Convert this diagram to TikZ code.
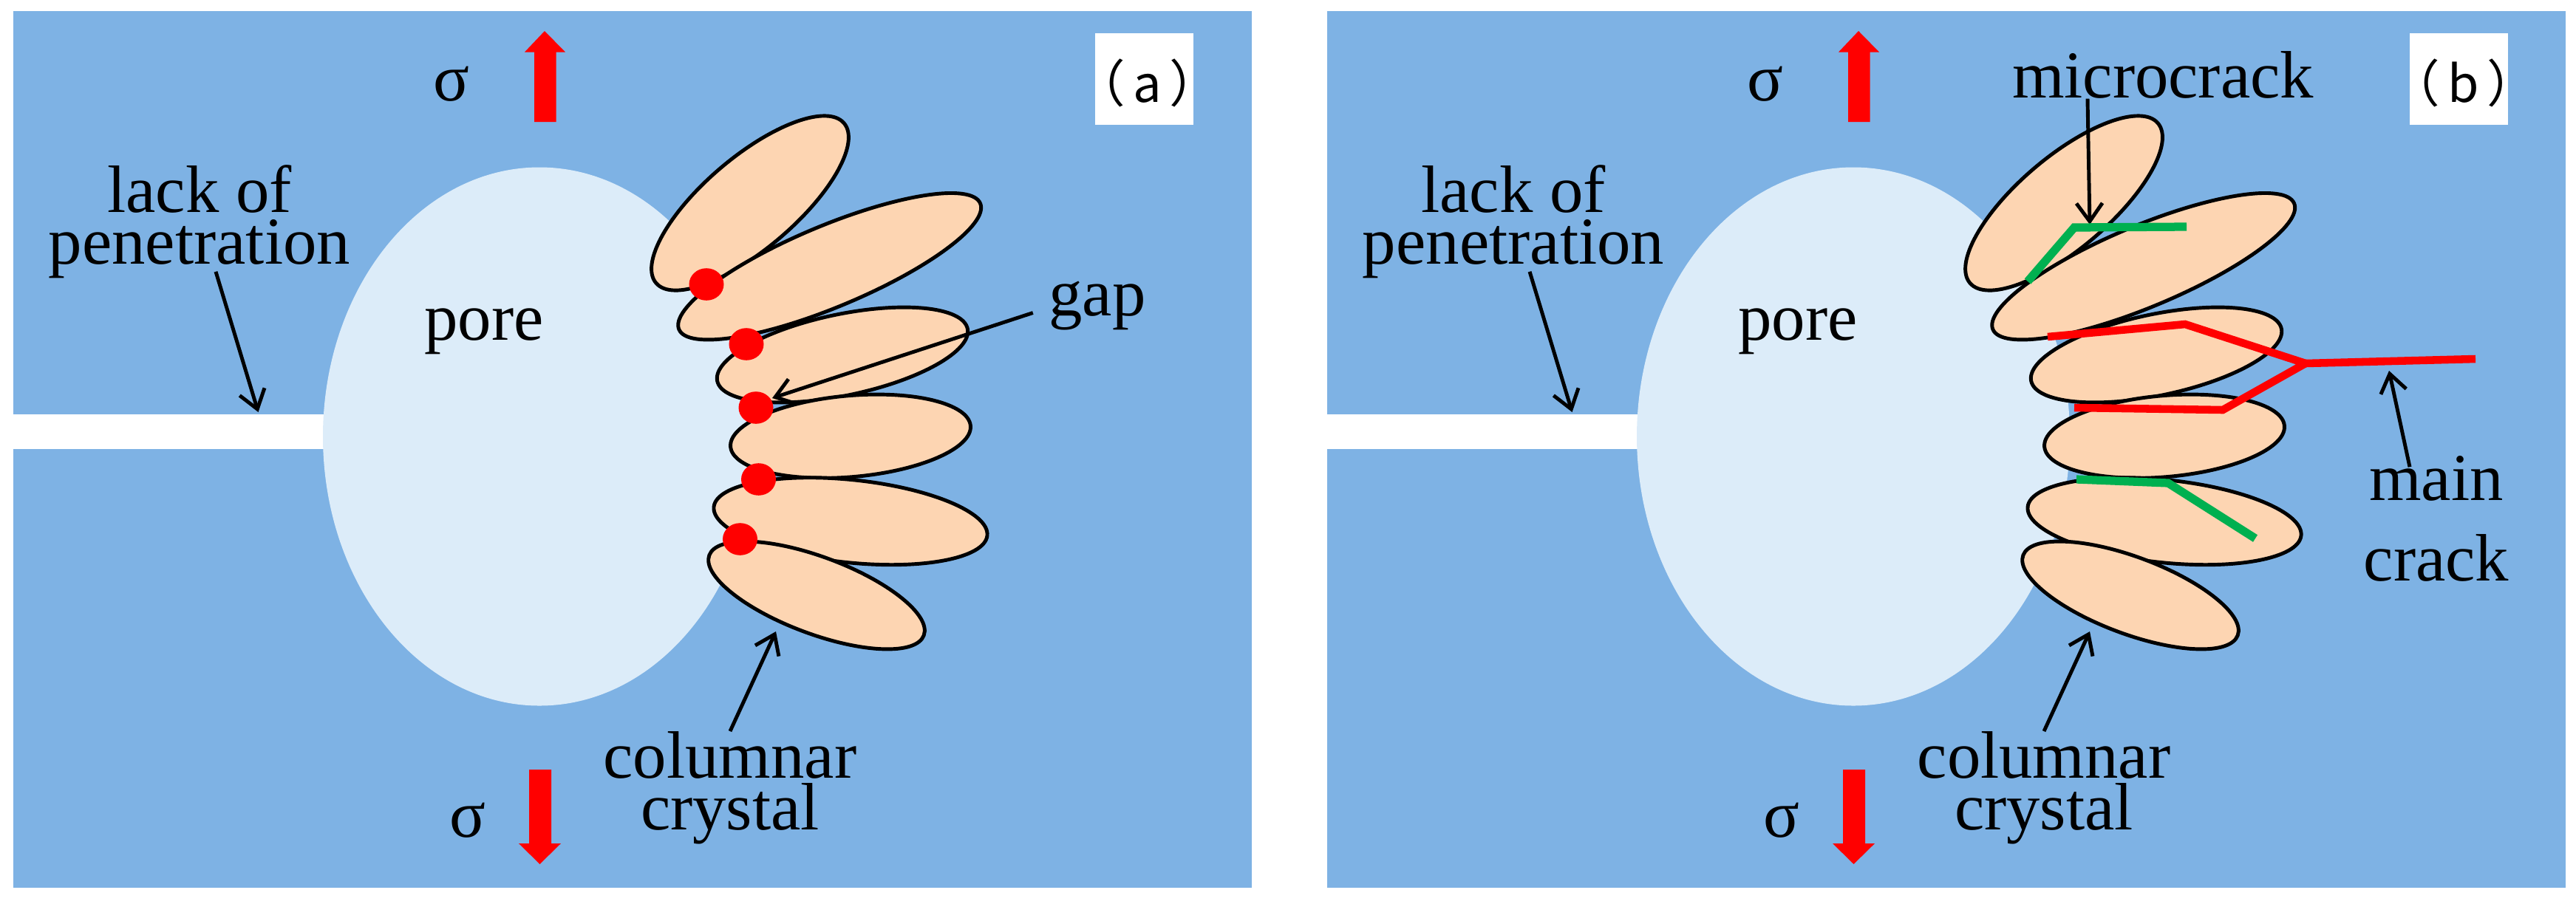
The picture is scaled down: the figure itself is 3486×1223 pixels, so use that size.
\documentclass[tikz,border=0pt]{standalone}
\usepackage{fontspec}
\setmainfont{Liberation Serif}
\newfontfamily\tagfont{Noto Sans CJK SC}
\usetikzlibrary{arrows.meta}
\definecolor{plate}{HTML}{7EB2E4}
\definecolor{poreblue}{HTML}{DCECF9}
\definecolor{crystalfill}{HTML}{FDD5B2}
\definecolor{crackgreen}{HTML}{00B050}
\newcommand{\lblfont}{\fontsize{25.8}{19.9}\selectfont\lineskiplimit=-100pt}
\tikzset{
    lbl/.style={inner sep=0pt,align=center,font=\lblfont},
    tag/.style={inner sep=0pt,anchor=base,font=\tagfont\fontsize{19.5}{22}\selectfont},
    crystal/.style={draw=black,fill=crystalfill,line width=1.4pt},
    pointer/.style={->,>={Straight Barb[length=7pt,width=10pt]},line width=1.4pt},
    maincrack/.style={red,line width=3pt,line join=miter},
    microcrack/.style={crackgreen,line width=3.2pt}
}
% one plate with slit, pore, crystals and the labels both panels share
\newcommand{\weldplate}{
    \fill[plate] (18,15) rectangle (1694,1202);
    \fill[white] (10,561) rectangle (600,608);
    \fill[poreblue] (730,591) ellipse [x radius=293,y radius=364.5];
    \foreach \cx/\cy/\ra/\rb/\ang in {1015/275/167/62/40.4,1140/480.5/173/55/11.8,1122.7/360.7/221/55/22.7,
        1151/590.7/163/55/5,1151/705.7/186/56/-6,1105/806/155/52/-20.5}
        \draw[crystal] (\cx,\cy) circle [x radius=\ra,y radius=\rb,rotate=\ang];
    \fill[red] (737,42) -- (765,70.5) -- (752.5,70.5) -- (752.5,165) -- (723,165) -- (723,70.5) -- (710,70.5) -- cycle;
    \fill[red] (730.5,1170) -- (759,1142) -- (746,1142) -- (746,1042) -- (716,1042) -- (716,1142) -- (702,1142) -- cycle;
    \node[lbl,anchor=base] (sigmaT) at (611,136) {σ};
    \node[lbl,anchor=base] (sigmaB) at (633,1133) {σ};
    \node[lbl] (lack) at (270,300.5) {lack of\\penetration};
    \node[lbl,anchor=base] (pore) at (655,460) {pore};
    \node[lbl] (columnar) at (988,1067) {columnar\\crystal};
    \coordinate (lackTip) at (349.5,558);
    \coordinate (columnarTip) at (1050,855);
    \draw[pointer] ([shift={(22,-10)}]lack.south) -- (lackTip);
    \draw[pointer] (columnar.north) -- (columnarTip);
}

\begin{document}
\begin{tikzpicture}[x=0.01cm,y=-0.01cm]
    \useasboundingbox (0,0) rectangle (3486,1223);
    \fill[white] (0,0) rectangle (3486,1223);

    % panel a
    \begin{scope}[name prefix=a-]
        \weldplate
        \foreach \dx/\dy in {956/385,1010/466,1023/552,1026.5/649,1001.5/730}
            \fill[red] (\dx,\dy) ellipse [x radius=23.5,y radius=21.8];
        \fill[white] (1482,45) rectangle (1615,169);
        \node[tag] (tagA) at (1553,138) {（\hspace{3pt}a\hspace{3pt}）};
        \node[lbl,anchor=base] (gap) at (1485,427) {gap};
        \coordinate (gapTip) at (1045,539);
        \draw[pointer] ([shift={(-21,10)}]gap.west) -- (gapTip);
    \end{scope}

    % panel b
    \begin{scope}[xshift=17.77cm,name prefix=b-]
        \weldplate
    \end{scope}
    \fill[white] (3261,45) rectangle (3394,169);
    \node[tag] (tagB) at (3334,138) {（\hspace{3pt}b\hspace{3pt}）};
    \node[lbl,anchor=base] (micro) at (2927,132) {microcrack};
    \node[lbl,anchor=base] (mainL) at (3297,677) {main};
    \node[lbl,anchor=base] (crackL) at (3297,786) {crack};
    \coordinate (microTip) at (2828,304);
    \coordinate (mainTip) at (3233,502);
    \draw[pointer] ([shift={(-102,0)}]micro.south) -- (microTip);
    \draw[pointer] ([shift={(-36,16)}]mainL.north) -- (mainTip);
    \draw[microcrack] (2744,381) -- (2807,308) -- (2959,307);
    \draw[microcrack] (2810,649) -- (2934,654) -- (3052,729);
    \draw[maincrack] (2771,456) -- (2957,439) -- (3120,492) -- (3008,555) -- (2807,552);
    \draw[maincrack] (3120,492) -- (3350,486);
\end{tikzpicture}
\end{document}
